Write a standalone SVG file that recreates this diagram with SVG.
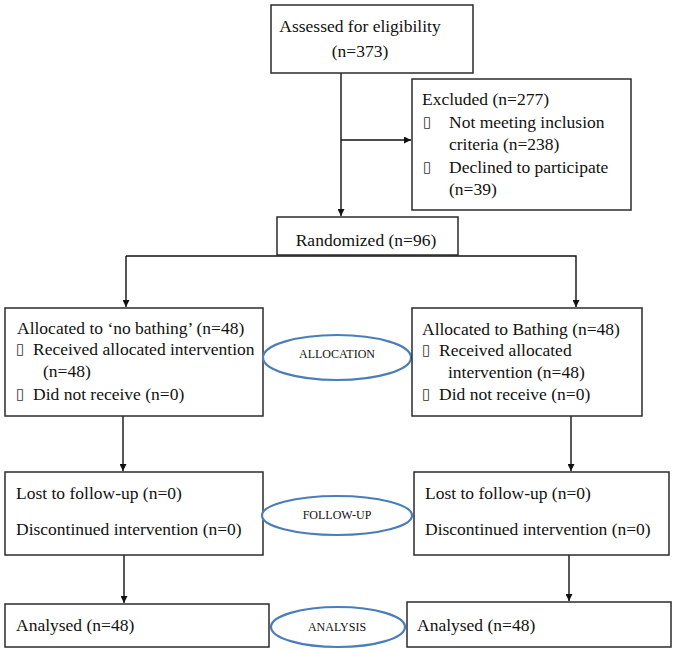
<svg xmlns="http://www.w3.org/2000/svg" width="674" height="651" viewBox="0 0 674 651">
<style>
  .box { fill: #ffffff; stroke: #2b2b2b; stroke-width: 1.5; }
  .oval { fill: #ffffff; stroke: #4a7ebb; stroke-width: 2.2; }
  .t { font-family: "Liberation Serif", "Times New Roman", serif; font-size: 17.5px; fill: #111111; }
  .s { font-family: "Liberation Serif", "Times New Roman", serif; font-size: 12px; fill: #111111; text-anchor: middle; }
  .b { font-family: "DejaVu Sans", sans-serif; font-size: 15px; fill: #333333; }
  .c { text-anchor: middle; }
  .ln { fill: none; stroke: #111111; stroke-width: 1.4; }
</style>
<defs>
  <marker id="arr" viewBox="0 0 10 10" refX="10" refY="5" markerWidth="7" markerHeight="7" markerUnits="userSpaceOnUse" orient="auto">
    <path d="M0,0 L10,5 L0,10 z" fill="#111111"/>
  </marker>
</defs>
<rect width="674" height="651" fill="#ffffff"/>

<g id="connectors">
  <line class="ln" x1="341" y1="73" x2="341" y2="216" marker-end="url(#arr)"/>
  <line class="ln" x1="341" y1="140" x2="411" y2="140" marker-end="url(#arr)"/>
  <polyline class="ln" points="126,256 576,256 576,307" marker-end="url(#arr)"/>
  <line class="ln" x1="126" y1="256" x2="126" y2="307" marker-end="url(#arr)"/>
  <line class="ln" x1="123" y1="416" x2="123" y2="471" marker-end="url(#arr)"/>
  <line class="ln" x1="571" y1="416" x2="571" y2="471" marker-end="url(#arr)"/>
  <line class="ln" x1="124" y1="555" x2="124" y2="603" marker-end="url(#arr)"/>
  <line class="ln" x1="569" y1="555" x2="569" y2="601" marker-end="url(#arr)"/>
</g>

<g id="assessed">
  <rect class="box" x="271" y="5" width="202" height="68"/>
  <text class="t c" x="360" y="32">Assessed for eligibility</text>
  <text class="t c" x="360" y="57">(n=373)</text>
</g>

<g id="excluded">
  <rect class="box" x="412" y="79" width="219" height="131"/>
  <text class="t" x="422" y="105">Excluded (n=277)</text>
  <text class="b" x="423" y="127">▯</text>
  <text class="t" x="449" y="128">Not meeting inclusion</text>
  <text class="t" x="449" y="150">criteria (n=238)</text>
  <text class="b" x="423" y="172">▯</text>
  <text class="t" x="449" y="173">Declined to participate</text>
  <text class="t" x="449" y="195">(n=39)</text>
</g>

<g id="randomized">
  <rect class="box" x="277" y="217" width="181" height="38"/>
  <text class="t c" x="366" y="246">Randomized (n=96)</text>
</g>

<g id="alloc-left">
  <rect class="box" x="5" y="308" width="258" height="108"/>
  <text class="t" x="17" y="334">Allocated to ‘no bathing’ (n=48)</text>
  <text class="b" x="16" y="354">▯</text>
  <text class="t" x="33" y="355">Received allocated intervention</text>
  <text class="t" x="43" y="377">(n=48)</text>
  <text class="b" x="16" y="399">▯</text>
  <text class="t" x="33" y="400">Did not receive (n=0)</text>
</g>

<g id="allocation">
  <ellipse class="oval" cx="337" cy="357.5" rx="74" ry="22.5"/>
  <text class="s" x="337" y="358">ALLOCATION</text>
</g>

<g id="alloc-right">
  <rect class="box" x="412" y="308" width="230" height="108"/>
  <text class="t" x="422" y="335">Allocated to Bathing (n=48)</text>
  <text class="b" x="422" y="355">▯</text>
  <text class="t" x="439" y="356">Received allocated</text>
  <text class="t" x="448" y="378">intervention (n=48)</text>
  <text class="b" x="422" y="399">▯</text>
  <text class="t" x="439" y="400">Did not receive (n=0)</text>
</g>

<g id="followup-left">
  <rect class="box" x="5" y="472" width="258" height="83"/>
  <text class="t" x="16" y="499">Lost to follow-up (n=0)</text>
  <text class="t" x="16" y="535">Discontinued intervention (n=0)</text>
</g>

<g id="followup">
  <ellipse class="oval" cx="337" cy="515.5" rx="75" ry="19.5"/>
  <text class="s" x="337" y="519">FOLLOW-UP</text>
</g>

<g id="followup-right">
  <rect class="box" x="414" y="472" width="255" height="83"/>
  <text class="t" x="425" y="499">Lost to follow-up (n=0)</text>
  <text class="t" x="425" y="535">Discontinued intervention (n=0)</text>
</g>

<g id="analysed-left">
  <rect class="box" x="5" y="604" width="264" height="43"/>
  <text class="t" x="16" y="631">Analysed (n=48)</text>
</g>

<g id="analysis">
  <ellipse class="oval" cx="338" cy="627" rx="67" ry="20"/>
  <text class="s" x="337" y="631">ANALYSIS</text>
</g>

<g id="analysed-right">
  <rect class="box" x="407" y="602" width="264" height="45"/>
  <text class="t" x="417" y="631">Analysed (n=48)</text>
</g>
</svg>
